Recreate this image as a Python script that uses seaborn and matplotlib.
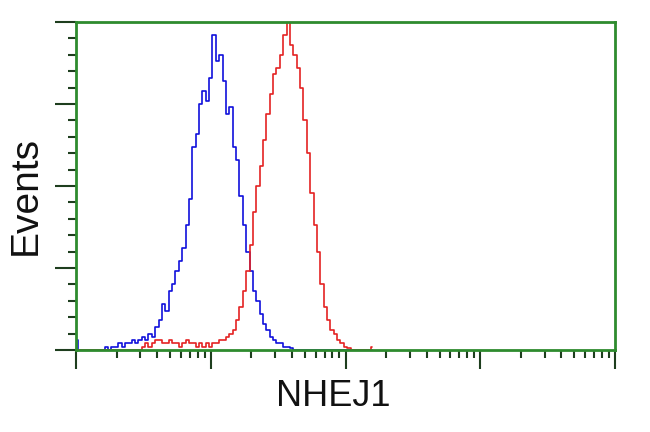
import numpy as np
import pandas as pd
import matplotlib
matplotlib.use('Agg')
import matplotlib.pyplot as plt
import seaborn as sns

# histogram channels, log10 units (0 .. 2.2)
channel = np.arange(89) * 0.025

control = [3, 0, 0, 0, 0, 0, 0, 0, 0, 1, 0, 1, 1, 2, 1, 2, 2, 3, 2, 3,
           4, 3, 5, 4, 7, 9, 14, 12, 18, 20, 24, 27, 31, 38, 46, 62, 66, 75, 79, 76,
           83, 96, 88, 90, 82, 72, 74, 62, 58, 47, 38, 30, 24, 18, 15, 11, 8, 6, 4, 3,
           2, 2, 1, 1, 0.5, 0, 0, 0, 0, 0, 0, 0, 0, 0, 0, 0, 0, 0, 0, 0,
           0, 0, 0, 0, 0, 0, 0, 0, 0]

nhej1 = [0, 0, 0, 0, 0, 0, 0, 0, 0, 0, 0, 0, 0, 0, 0, 0, 0, 0, 0, 0,
         1, 2, 1, 2, 3, 3, 2, 2, 3, 2, 2, 1, 2, 3, 2, 2, 1, 2, 1, 2,
         1, 2, 2, 3, 3, 4, 5, 6, 9, 13, 18, 24, 32, 42, 50, 56, 64, 72, 78, 84,
         86, 90, 96, 100, 93, 90, 86, 80, 70, 60, 48, 38, 30, 20, 13, 9, 6, 5, 3, 2,
         1, 0.5, 0, 0, 0, 0, 0, 0, 0.8]

df = pd.DataFrame({'x': 10 ** channel, 'control': control, 'nhej1': nhej1})

sns.set_style('white')
plt.rcParams['font.family'] = ['Liberation Sans', 'DejaVu Sans']

fig = plt.figure(figsize=(6.5, 4.32), dpi=100)
ax = fig.add_axes([76 / 650, 1 - 350 / 432, 539 / 650, 328 / 432])

sns.lineplot(data=df, x='x', y='control', color='#1010dc', lw=1.2,
             drawstyle='steps-mid', ax=ax)
sns.lineplot(data=df, x='x', y='nhej1', color='#e42222', lw=1.2,
             drawstyle='steps-mid', ax=ax)

ax.set_xscale('log')
ax.set_xlim(1, 1e4)
ax.set_ylim(0, 100)
ax.set_yticks([0, 25, 50, 75, 100])
ax.set_yticks(np.arange(0, 101, 5), minor=True)

green = '#2e8b2e'
for s in ax.spines.values():
    s.set_color(green)
    s.set_linewidth(2)

ax.tick_params(which='both', direction='out', colors='#1e3e1e',
               labelleft=False, labelbottom=False, left=True, bottom=True)
ax.tick_params(axis='y', which='major', length=15, width=1.5)
ax.tick_params(axis='y', which='minor', length=6, width=1.5)
ax.tick_params(axis='x', which='major', length=14, width=1.5)
ax.tick_params(axis='x', which='minor', length=6, width=1.5)

ax.set_xlabel('NHEJ1', fontsize=26, color='#111111')
ax.set_ylabel('Events', fontsize=28, color='#111111')
ax.xaxis.set_label_coords(0.478, -0.088)
ax.yaxis.set_label_coords(-0.059, 0.47)

fig.savefig('out.png', dpi=100)
